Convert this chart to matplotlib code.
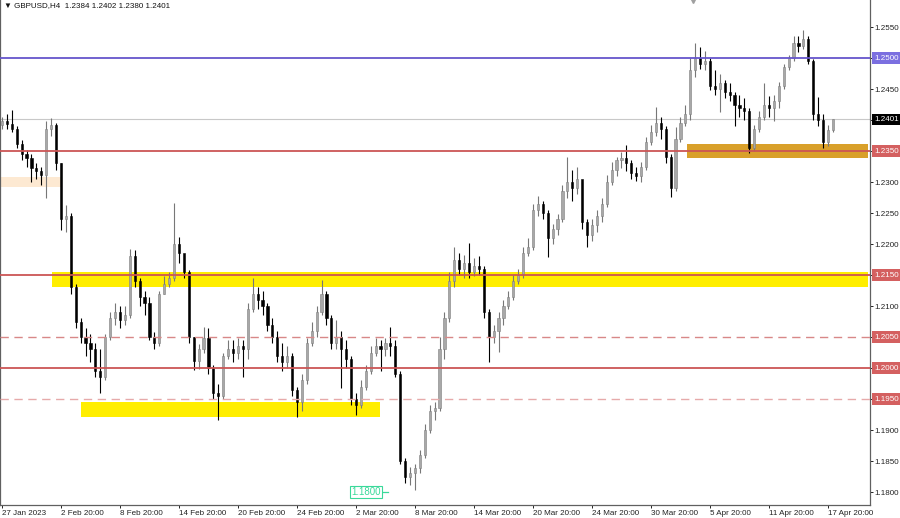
import matplotlib
matplotlib.use("Agg")
import matplotlib.pyplot as plt
from matplotlib.patches import Rectangle
import numpy as np

# ---------------- data ----------------
first_open = 1.2392
closes = [
    1.2398, 1.2394, 1.2385, 1.2362, 1.2345, 1.2338, 1.2322, 1.2318, 1.2312, 1.2385,
    1.2392, 1.2330, 1.2240, 1.2245, 1.2130, 1.2075, 1.2050, 1.2040, 1.2030, 1.1995,
    1.1985, 1.2050, 1.2080, 1.2090, 1.2078, 1.2085, 1.2180, 1.2140, 1.2115, 1.2105,
    1.2050, 1.2040, 1.2120, 1.2135, 1.2145, 1.2200, 1.2185, 1.2155, 1.2050, 1.2012,
    1.2030, 1.2048, 1.2000, 1.1960, 1.1955, 1.2020, 1.2030, 1.2025, 1.2035, 1.2030,
    1.2095, 1.2120, 1.2110, 1.2100, 1.2070, 1.2050, 1.2020, 1.2010, 1.2020, 1.1965,
    1.1945, 1.1980, 1.2040, 1.2060, 1.2090, 1.2120, 1.2080, 1.2040, 1.2050, 1.2030,
    1.2015, 1.1950, 1.1940, 1.1970, 1.1995, 1.2025, 1.2035, 1.2030, 1.2040, 1.2035,
    1.1990, 1.1850, 1.1825, 1.1830, 1.1838, 1.1860, 1.1900, 1.1930, 1.1935, 1.2030,
    1.2080, 1.2140, 1.2175, 1.2160, 1.2170, 1.2155, 1.2165, 1.2160, 1.2090, 1.2050,
    1.2060, 1.2080, 1.2100, 1.2115, 1.2140, 1.2150, 1.2185, 1.2195, 1.2255, 1.2265,
    1.2250, 1.2210, 1.2225, 1.2240, 1.2285, 1.2300, 1.2290, 1.2305, 1.2235, 1.2215,
    1.2230, 1.2245, 1.2265, 1.2300, 1.2320, 1.2335, 1.2338, 1.2330, 1.2315, 1.2310,
    1.2325, 1.2365, 1.2380, 1.2395, 1.2385, 1.2340, 1.2290, 1.2370, 1.2395, 1.2410,
    1.2480, 1.2500, 1.2490, 1.2495, 1.2455, 1.2450, 1.2460, 1.2445, 1.2440, 1.2425,
    1.2420, 1.2415, 1.2355, 1.2385, 1.2405, 1.2425, 1.2420, 1.2430, 1.2455, 1.2485,
    1.2500, 1.2525, 1.2520, 1.2530, 1.2495, 1.2410, 1.2400, 1.2365, 1.2384, 1.2401,
]
highs = [
    1.2405, 1.2410, 1.2416, 1.2390, 1.2368, 1.2352, 1.2345, 1.2330, 1.2325, 1.2398,
    1.2403, 1.2395, 1.2330, 1.2263, 1.2250, 1.2135, 1.2080, 1.2065, 1.2055, 1.2040,
    1.2030, 1.2055, 1.2090, 1.2105, 1.2100, 1.2100, 1.2192, 1.2190, 1.2145, 1.2125,
    1.2115, 1.2058, 1.2125, 1.2148, 1.2155, 1.2266, 1.2212, 1.2180, 1.2158, 1.2050,
    1.2038, 1.2066, 1.2065, 1.2005, 1.1975, 1.2025, 1.2045, 1.2045, 1.2048, 1.2045,
    1.2105, 1.2145, 1.2130, 1.2125, 1.2105, 1.2080, 1.2060, 1.2040, 1.2035, 1.2025,
    1.1970, 1.1990, 1.2048, 1.2075, 1.2100, 1.2142, 1.2125, 1.2085, 1.2077, 1.2060,
    1.2045, 1.2020, 1.1960, 1.1980, 1.2005, 1.2035, 1.2048, 1.2045, 1.2048, 1.2066,
    1.2045, 1.1995, 1.1855, 1.1840, 1.1845, 1.1868, 1.1910, 1.1940, 1.1945, 1.2050,
    1.2090, 1.2155, 1.2195, 1.2185, 1.2182, 1.2202, 1.2178, 1.2180, 1.2165, 1.2095,
    1.2070, 1.2090, 1.2110, 1.2125, 1.2150, 1.2160, 1.2195, 1.2210, 1.2265, 1.2278,
    1.2270, 1.2255, 1.2232, 1.2248, 1.2295, 1.2340, 1.2320, 1.2325, 1.2300, 1.2240,
    1.2240, 1.2255, 1.2275, 1.2312, 1.2332, 1.2340, 1.2348, 1.2360, 1.2335, 1.2325,
    1.2332, 1.2372, 1.2392, 1.2421, 1.2405, 1.2390, 1.2345, 1.2389, 1.2405, 1.2424,
    1.2500, 1.2524, 1.2518, 1.2512, 1.2500, 1.2480, 1.2475, 1.2465, 1.2460, 1.2445,
    1.2440, 1.2435, 1.2420, 1.2392, 1.2415, 1.2460, 1.2438, 1.2440, 1.2462, 1.2490,
    1.2505, 1.2535, 1.2535, 1.2545, 1.2535, 1.2498, 1.2437, 1.2410, 1.2392, 1.2402,
]
lows = [
    1.2385, 1.2385, 1.2380, 1.2355, 1.2335, 1.2325, 1.2300, 1.2305, 1.2295, 1.2275,
    1.2375, 1.2320, 1.2222, 1.2220, 1.2120, 1.2065, 1.2040, 1.2020, 1.2010, 1.1985,
    1.1960, 1.1980, 1.2045, 1.2070, 1.2065, 1.2070, 1.2080, 1.2130, 1.2100, 1.2085,
    1.2045, 1.2030, 1.2035, 1.2120, 1.2130, 1.2140, 1.2170, 1.2145, 1.2040, 1.1997,
    1.1998, 1.2025, 1.1990, 1.1950, 1.1916, 1.1950, 1.2015, 1.2010, 1.2015, 1.1985,
    1.2015, 1.2090, 1.2095, 1.2085, 1.2060, 1.2040, 1.2010, 1.1995, 1.2000, 1.1955,
    1.1921, 1.1930, 1.1975, 1.2035, 1.2050, 1.2085, 1.2070, 1.2030, 1.2030, 1.1968,
    1.2000, 1.1940, 1.1925, 1.1935, 1.1965, 1.1990, 1.2020, 1.1995, 1.2020, 1.2020,
    1.1985, 1.1845, 1.1815, 1.1812, 1.1803, 1.1830, 1.1855, 1.1895, 1.1916, 1.1930,
    1.2015, 1.2075, 1.2130, 1.2150, 1.2145, 1.2145, 1.2148, 1.2150, 1.2080, 1.2010,
    1.2040, 1.2026, 1.2070, 1.2095, 1.2110, 1.2135, 1.2145, 1.2180, 1.2190, 1.2245,
    1.2240, 1.2179, 1.2200, 1.2215, 1.2235, 1.2275, 1.2270, 1.2280, 1.2225, 1.2195,
    1.2205, 1.2220, 1.2235, 1.2260, 1.2295, 1.2310, 1.2322, 1.2318, 1.2305, 1.2302,
    1.2300, 1.2320, 1.2360, 1.2375, 1.2370, 1.2330, 1.2276, 1.2285, 1.2365, 1.2390,
    1.2400, 1.2470, 1.2482, 1.2480, 1.2448, 1.2440, 1.2413, 1.2435, 1.2430, 1.2390,
    1.2405, 1.2400, 1.2347, 1.2350, 1.2380, 1.2400, 1.2405, 1.2398, 1.2420, 1.2450,
    1.2480, 1.2495, 1.2510, 1.2515, 1.2490, 1.2400, 1.2390, 1.2355, 1.2358, 1.2380,
]

date_labels = ["27 Jan 2023", "2 Feb 20:00", "8 Feb 20:00", "14 Feb 20:00", "20 Feb 20:00",
               "24 Feb 20:00", "2 Mar 20:00", "8 Mar 20:00", "14 Mar 20:00", "20 Mar 20:00",
               "24 Mar 20:00", "30 Mar 20:00", "5 Apr 20:00", "11 Apr 20:00", "17 Apr 20:00"]
date_label_bars = [0, 12, 24, 36, 48, 60, 72, 84, 96, 108, 120, 132, 144, 156, 168]

price_ticks = [1.1800, 1.1850, 1.1900, 1.1950, 1.2000, 1.2050, 1.2100, 1.2150,
               1.2200, 1.2250, 1.2300, 1.2350, 1.2400, 1.2450, 1.2500, 1.2550]

solid_levels = [1.2500, 1.2350, 1.2150, 1.2000]
solid_colors = ["#6655cc", "#cc5555", "#cc5555", "#cc5555"]
dashed_levels = [1.2050, 1.1950]
dashed_colors = ["#d88888", "#e6aaaa"]
boxed_levels = [1.2500, 1.2350, 1.2150, 1.2050, 1.2000, 1.1950]
boxed_colors = ["#7b6fe0", "#d46060", "#d46060", "#d46060", "#d46060", "#d46060"]
current_price = 1.2401

# zones: (start bar, end bar or None to right edge, low, high, colour)
zones = [
    (-0.4, 12.2, 1.2292, 1.2308, "#fde9d2"),
    (10.2, None, 1.2130, 1.2155, "#ffee00"),
    (16.1, 76.9, 1.1921, 1.1945, "#ffee00"),
    (139.3, None, 1.2339, 1.2361, "#d9a02a"),
]

title_text = "\u25bc GBPUSD,H4  1.2384 1.2402 1.2380 1.2401"
marker_text = "1.1800"
marker_price = 1.1800

# ---------------- figure ----------------
W, H = 900, 518
FS = 5.8
fig = plt.figure(figsize=(W / 100, H / 100), dpi=100)
fig.patch.set_facecolor("white")
ax = fig.add_axes([0.0, 1 - 505 / H, 870 / W, 505 / H])
ax.set_facecolor("white")

px_per_bar = 59 / 12.0
x_left = -0.4
ax.set_xlim(x_left, x_left + 870 / px_per_bar)
ymin = 1.2350 - (505 - 151) / 6200.0
ymax = 1.2350 + 151 / 6200.0
ax.set_ylim(ymin, ymax)

# zones
for x0, x1, lo, hi, col in zones:
    xe = ax.get_xlim()[1] - 0.4 if x1 is None else x1
    ax.add_patch(Rectangle((x0, lo), xe - x0, hi - lo, facecolor=col, edgecolor="none", zorder=1))

# current price line
ax.axhline(current_price, color="#c8c8c8", lw=0.8, zorder=1.5)

# candles
n = len(closes)
opens = [first_open] + closes[:-1]
up_col_body = "#a8a8a8"
up_col_edge = "#808080"
for i in range(n):
    o, c, h, l = opens[i], closes[i], highs[i], lows[i]
    bull = c >= o
    wc = "#777777" if bull else "#000000"
    ax.vlines(i, l, h, color=wc, lw=0.8, zorder=3)
    bottom = min(o, c)
    height = max(abs(c - o), 0.00012)
    ax.bar(i, height, bottom=bottom, width=0.45,
           color=up_col_body if bull else "#000000",
           edgecolor=up_col_edge if bull else "#000000", linewidth=0.4, zorder=4)

# level lines
for lv, col in zip(solid_levels, solid_colors):
    ax.axhline(lv, color=col, lw=1.3, zorder=5)
for lv, col in zip(dashed_levels, dashed_colors):
    ax.axhline(lv, color=col, lw=1.0, ls=(0, (6, 4)), zorder=5)

# axes styling
ax.spines["top"].set_visible(False)
for s in ["left", "right", "bottom"]:
    ax.spines[s].set_color("#606060")
    ax.spines[s].set_linewidth(0.9)

ax.yaxis.tick_right()
ax.set_yticks(price_ticks)
ax.set_yticklabels(["" if any(abs(p - b) < 1e-6 for b in boxed_levels) or abs(p - 1.24) < 1e-6
                    else f"{p:.4f}" for p in price_ticks])
ax.tick_params(axis="y", which="both", direction="out", length=2, width=0.7, pad=1.5,
               labelsize=FS, colors="#222222", labelfontfamily="Liberation Sans")
ax.set_xticks(date_label_bars)
ax.set_xticklabels(date_labels)
ax.tick_params(axis="x", direction="out", length=2.5, width=0.7, pad=1,
               labelsize=FS, colors="#222222", labelfontfamily="Liberation Sans")
for lab in ax.get_xticklabels():
    lab.set_horizontalalignment("left")

# price labels with boxes on the right axis
def price_box(price, face, txtcol="white"):
    ax.text(1.0045, price, f"{price:.4f}", transform=ax.get_yaxis_transform(),
            ha="left", va="center", fontsize=FS, family="Liberation Sans", color=txtcol,
            bbox=dict(boxstyle="square,pad=0.25", facecolor=face, edgecolor="none"),
            zorder=10, clip_on=False)

for lv, col in zip(boxed_levels, boxed_colors):
    price_box(lv, col)
price_box(current_price, "#000000")

# title
fig.text(4 / W, 1 - 6 / H, title_text, ha="left", va="center", fontsize=FS,
         family=["Liberation Sans", "DejaVu Sans"], color="#111111")

# shift marker at top
ax.plot([140.6], [ymax], marker="v", color="#a0a0a0", markersize=4, clip_on=False, zorder=10)

# green price marker
ax.text(71.0, marker_price, marker_text, ha="left", va="center", fontsize=7, family="Liberation Sans",
        color="#3ad99a", zorder=10,
        bbox=dict(boxstyle="square,pad=0.15", facecolor="white", edgecolor="#3ad99a", lw=0.8))
ax.plot([77.4, 78.6], [marker_price, marker_price], color="#3ad99a", lw=0.9, zorder=10)

fig.savefig("out.png", dpi=100, facecolor="white")
